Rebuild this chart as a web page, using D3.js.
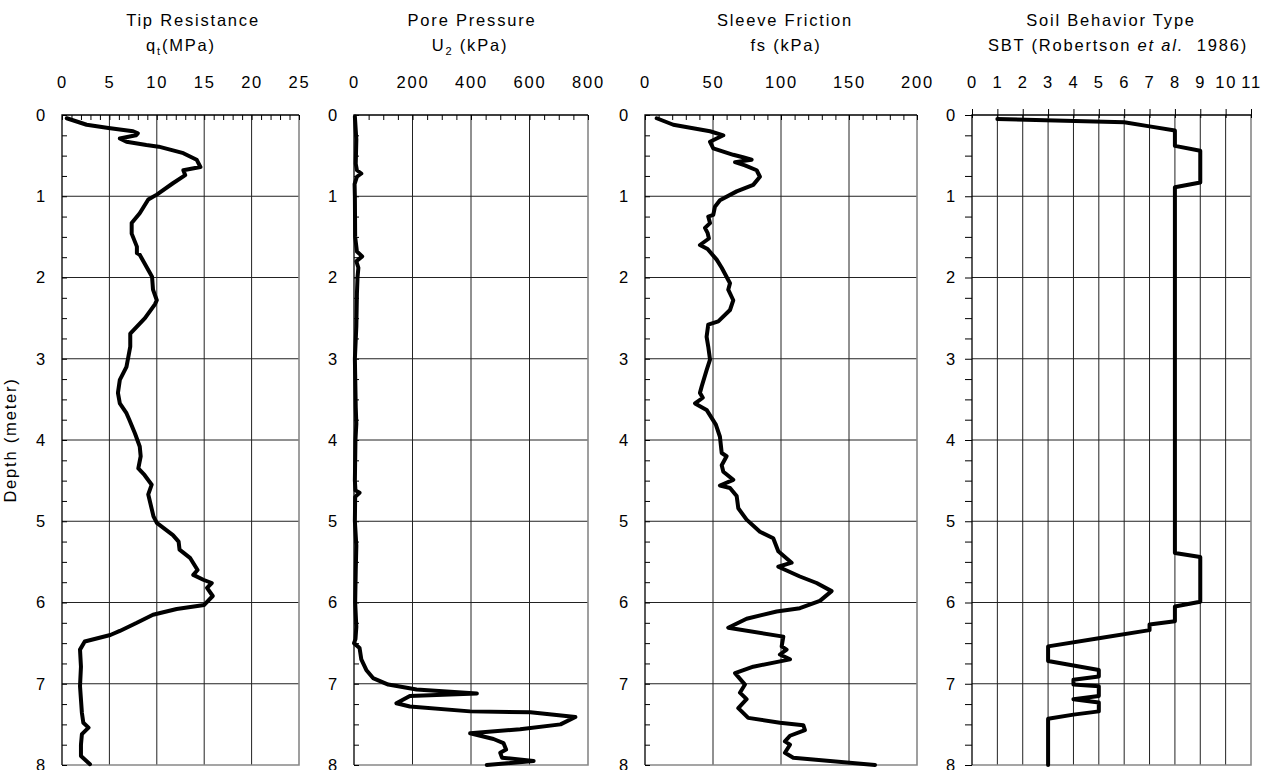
<!DOCTYPE html>
<html>
<head>
<meta charset="utf-8">
<script src="https://cdn.jsdelivr.net/npm/d3@7"></script>
<style>
  body { margin: 0; background: #fff; }
  text { font-family: "Liberation Sans", Arial, sans-serif; font-size: 16.5px; letter-spacing: 1.8px; fill: #000; white-space: pre; }
</style>
</head>
<body>
<svg id="chart" width="1268" height="770"></svg>
<script>
// depth (m) of each reading
var tipDepth = [0.04,0.12,0.16,0.20,0.225,0.25,0.29,0.33,0.37,0.39,0.47,0.55,0.64,0.68,0.74,0.84,0.98,1.04,1.21,1.33,1.46,1.62,1.70,1.72,1.99,2.15,2.28,2.33,2.50,2.69,2.85,3.10,3.26,3.42,3.55,3.67,3.75,3.92,4.08,4.20,4.35,4.43,4.55,4.67,4.94,5.02,5.17,5.25,5.35,5.45,5.60,5.66,5.72,5.76,5.82,5.92,6.03,6.08,6.15,6.25,6.35,6.40,6.48,6.58,6.79,7.03,7.36,7.48,7.54,7.62,7.75,7.89,7.99];
var tipQt    = [0.5,2.6,4.9,7.5,8.0,7.8,6.1,6.8,8.9,10.2,12.8,14.2,14.6,12.8,13.0,11.7,10.0,9.1,8.2,7.35,7.35,7.9,7.9,8.2,9.5,9.6,10.0,9.8,8.75,7.2,7.2,6.8,6.1,5.9,6.1,6.8,7.1,7.7,8.2,8.3,8.05,8.7,9.46,9.1,9.65,10.0,11.7,12.3,12.4,13.5,14.3,13.85,14.9,15.8,15.3,15.9,15.0,12.1,9.6,7.9,6.1,5.1,2.4,1.9,2.0,1.9,2.1,2.25,2.8,2.1,2.0,2.0,2.95];

var poreDepth = [0.02,0.3,0.6,0.68,0.72,0.76,0.85,1.0,1.5,1.68,1.74,1.8,1.88,2.0,2.2,2.6,3.0,3.2,3.6,3.8,4.0,4.5,4.62,4.65,4.70,5.0,5.3,5.6,6.0,6.3,6.45,6.50,6.56,6.70,6.83,6.93,7.01,7.07,7.12,7.15,7.24,7.28,7.34,7.35,7.41,7.50,7.56,7.61,7.68,7.73,7.81,7.85,7.91,7.95,8.0];
var poreU2    = [3,8,6,10,25,10,2,3,4,10,28,8,15,12,10,8,3,4,6,8,5,3,5,19,4,3,8,6,4,8,5,0,19,25,42,65,117,214,420,191,145,191,397,603,757,706,568,397,477,511,520,500,506,614,454];

var sleeveDepth = [0.04,0.12,0.20,0.25,0.33,0.41,0.49,0.52,0.55,0.58,0.62,0.68,0.76,0.86,0.94,1.05,1.13,1.23,1.25,1.33,1.39,1.45,1.52,1.60,1.65,1.78,1.88,2.07,2.15,2.28,2.40,2.54,2.58,2.73,2.85,3.01,3.14,3.34,3.42,3.48,3.55,3.63,3.81,3.96,4.16,4.20,4.31,4.39,4.49,4.56,4.59,4.69,4.84,4.98,5.13,5.21,5.37,5.51,5.56,5.68,5.76,5.86,5.98,6.07,6.11,6.20,6.31,6.42,6.54,6.58,6.64,6.70,6.79,6.87,7.01,7.11,7.19,7.30,7.42,7.48,7.51,7.57,7.64,7.71,7.75,7.85,7.91,8.0];
var sleeveFs    = [8.6,20.8,47.8,57.6,47.8,50.2,64.9,72,78.4,66.2,73.5,82.1,84.5,79.6,67.4,55.1,51.4,50.2,46.5,47.8,44.1,46,47,40.4,46,52.7,56.4,62.5,61.2,64.9,62.5,53.9,46.5,45.3,46.5,47.8,45.3,41.7,40.4,42.5,36.8,45.3,52.1,55.1,56.4,60.0,56.4,57.6,64.9,55.1,62.5,67.4,68.6,74.7,84.5,94.3,98.0,107.8,98.0,113.9,126.2,137.2,128.6,113.9,96.8,74.7,61.2,101.7,100.5,104.1,99.2,106.6,79.6,66.2,73.5,69.8,74.7,68.6,75.9,99.2,116.4,117.6,106.6,102.9,106.6,102.9,109.0,169.1];

var sbtDepth = [0.05,0.09,0.14,0.19,0.38,0.44,0.83,0.89,5.39,5.44,5.99,6.05,6.23,6.27,6.34,6.44,6.54,6.72,6.83,6.91,6.95,7.01,7.03,7.15,7.19,7.23,7.34,7.38,7.43,8.0];
var sbtType  = [1,6,7,8,8,9,9,8,8,9,9,8,8,7,7,5,3,3,5,5,4,4,5,5,4,5,5,4,3,3];

// tick labels
var depthTicks  = [0,1,2,3,4,5,6,7,8];
var tipTicks    = [0,5,10,15,20,25];
var poreTicks   = [0,200,400,600,800];
var sleeveTicks = [0,50,100,150,200];
var sbtTicks    = [0,1,2,3,4,5,6,7,8,9,10,11];

var svg = d3.select("#chart");
var y = d3.scaleLinear().domain([0, 8]).range([115, 765]);

var panels = [
  { left: 62,  right: 299,  ticks: tipTicks,    minor: 1,  grid: [5,10,15,20],   depth: tipDepth,    vals: tipQt,
    titleX: [193, 181], sub: "t", pre: "q", post: "(MPa)", title: "Tip Resistance", outTicks: false },
  { left: 354, right: 588,  ticks: poreTicks,   minor: 50, grid: [200,400,600],  depth: poreDepth,   vals: poreU2,
    titleX: [472, 470], sub: "2", pre: "U", post: " (kPa)", title: "Pore Pressure", outTicks: false },
  { left: 645, right: 917,  ticks: sleeveTicks, minor: 10, grid: [50,100,150],   depth: sleeveDepth, vals: sleeveFs,
    titleX: [785, 786], sub: null, pre: "fs (kPa)", post: "", title: "Sleeve Friction", outTicks: false },
  { left: 972, right: 1251, ticks: sbtTicks,    minor: 1,  grid: [1,2,3,4,5,6,7,8,9,10], depth: sbtDepth, vals: sbtType,
    titleX: [1111, 1118], sub: null, pre: null, post: "", title: "Soil Behavior Type", outTicks: true }
];

panels.forEach(function(p) {
  var lo = p.ticks[0], hi = p.ticks[p.ticks.length - 1];
  var x = d3.scaleLinear().domain([lo, hi]).range([p.left, p.right]);
  var g = svg.append("g");

  // grid
  g.append("g").selectAll("line").data(p.grid).join("line")
    .attr("x1", function(d) { return x(d); }).attr("x2", function(d) { return x(d); })
    .attr("y1", y(0)).attr("y2", y(8))
    .attr("stroke", "#222").attr("stroke-width", 1);
  g.append("g").selectAll("line").data(depthTicks.slice(1, -1)).join("line")
    .attr("x1", p.left).attr("x2", p.right)
    .attr("y1", function(d) { return y(d); }).attr("y2", function(d) { return y(d); })
    .attr("stroke", "#222").attr("stroke-width", 1);

  // right & bottom frame
  g.append("path")
    .attr("d", "M" + p.right + "," + y(0) + "V" + y(8) + "H" + p.left)
    .attr("fill", "none").attr("stroke", "#888").attr("stroke-width", 1.6);

  // minor ticks
  var minorX = d3.range(lo, hi + p.minor / 2, p.minor);
  var minorY = d3.range(0, 8.01, 0.25);
  if (p.outTicks) {
    g.append("g").attr("transform", "translate(0," + y(0) + ")")
      .call(d3.axisTop(x).tickValues(minorX).tickSize(6).tickFormat(""))
      .call(function(a) { a.select(".domain").remove(); });
    g.append("g").attr("transform", "translate(0," + y(0) + ")")
      .call(d3.axisTop(x).tickValues(minorX).tickSize(-3).tickFormat(""))
      .call(function(a) { a.select(".domain").remove(); });
    g.append("g").attr("transform", "translate(" + p.left + ",0)")
      .call(d3.axisLeft(y).tickValues(minorY).tickSize(7).tickFormat(""))
      .call(function(a) { a.select(".domain").remove(); });
  } else {
    g.append("g").attr("transform", "translate(0," + y(0) + ")")
      .call(d3.axisTop(x).tickValues(minorX).tickSize(-5).tickFormat(""))
      .call(function(a) { a.select(".domain").remove(); });
    g.append("g").attr("transform", "translate(" + p.left + ",0)")
      .call(d3.axisLeft(y).tickValues(minorY).tickSize(-5).tickFormat(""))
      .call(function(a) { a.select(".domain").remove(); });
  }
  g.selectAll(".tick line").attr("stroke", "#000");

  // labels
  var xLab = g.append("g").attr("transform", "translate(0," + y(0) + ")")
    .call(d3.axisTop(x).tickValues(p.ticks).tickSize(0).tickPadding(27));
  xLab.select(".domain").remove();
  var yLab = g.append("g").attr("transform", "translate(" + p.left + ",0)")
    .call(d3.axisLeft(y).tickValues(depthTicks).tickSize(0).tickPadding(15));
  yLab.select(".domain").remove();
  g.selectAll(".tick text").attr("font-family", null).attr("font-size", null).style("font-size", "16.5px");

  // top & left axis lines
  g.append("path")
    .attr("d", "M" + p.left + "," + y(8) + "V" + y(0) + "H" + p.right)
    .attr("fill", "none").attr("stroke", "#000").attr("stroke-width", 1.3);

  // data line
  var pts = p.depth.map(function(d, i) { return [p.vals[i], d]; });
  g.append("path").datum(pts)
    .attr("d", d3.line().x(function(d) { return x(d[0]); }).y(function(d) { return y(d[1]); }))
    .attr("fill", "none").attr("stroke", "#000").attr("stroke-width", 4)
    .attr("stroke-linejoin", "round").attr("stroke-linecap", "round");

  // titles
  g.append("text").attr("x", p.titleX[0]).attr("y", 26).attr("text-anchor", "middle").text(p.title);
  var t2 = g.append("text").attr("x", p.titleX[1]).attr("y", 51).attr("text-anchor", "middle");
  if (p.pre === null) {
    t2.append("tspan").text("SBT (Robertson ");
    t2.append("tspan").style("font-style", "italic").text("et al.");
    t2.append("tspan").text("  1986)");
  } else {
    t2.append("tspan").text(p.pre);
    if (p.sub) {
      t2.append("tspan").attr("dy", 4).style("font-size", "11px").text(p.sub);
      t2.append("tspan").attr("dy", -4).text(p.post);
    }
  }
});

svg.append("text")
  .attr("transform", "translate(16,440) rotate(-90)")
  .attr("text-anchor", "middle")
  .text("Depth (meter)");
</script>
</body>
</html>
